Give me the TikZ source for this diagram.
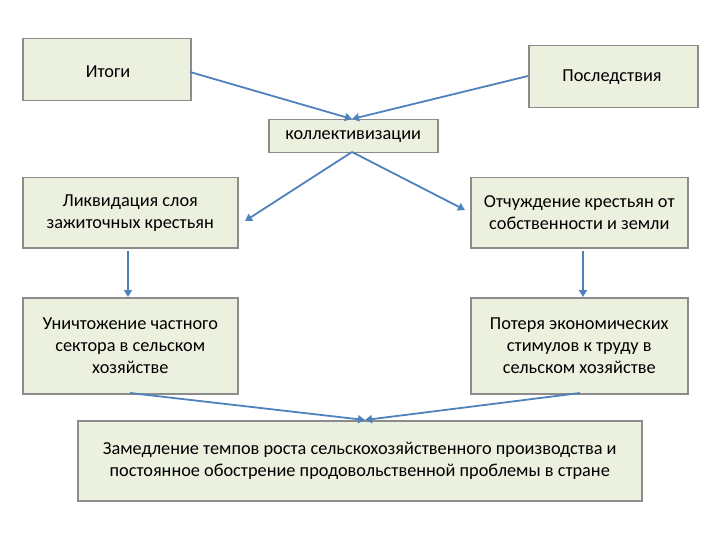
\documentclass[tikz,border=0pt]{standalone}
\usepackage{fontspec}
\setmainfont{Carlito}
\usetikzlibrary{arrows.meta}
\definecolor{boxfill}{HTML}{EBF1DE}
\definecolor{boxline}{HTML}{8C8C8C}
\definecolor{arr}{HTML}{4F81BD}
\begin{document}
\begin{tikzpicture}[x=1pt,y=-1pt,
  bx/.style={draw=boxline,fill=boxfill,line width=1.5pt,align=center,font=\fontsize{18.3}{22}\selectfont,inner sep=0pt},
  con/.style={draw=arr,line width=1.8pt,-{Triangle[length=7pt,width=8pt]}}]
\useasboundingbox (0,0) rectangle (720,540);
\node[bx,minimum width=168,minimum height=62,anchor=north west] (itogi) at (22,38) {};
\node[font=\fontsize{18.3}{22}\selectfont] (itogiT) at (108,72) {Итоги};
\node[bx,minimum width=169,minimum height=62,anchor=north west] (posl) at (528,45) {};
\node[font=\fontsize{18.3}{22}\selectfont] (poslT) at (612,77) {Последствия};
\node[bx,minimum width=169,minimum height=33,anchor=north west] (koll) at (268,119) {коллективизации};
\node[bx,minimum width=215,minimum height=70,anchor=north west] (likv) at (22,177) {Ликвидация слоя\\зажиточных крестьян};
\node[bx,minimum width=217,minimum height=70,anchor=north west] (otch) at (470,177) {Отчуждение крестьян от\\собственности и земли};
\node[bx,minimum width=215,minimum height=96,anchor=north west] (unich) at (22,297) {Уничтожение частного\\сектора в сельском\\хозяйстве};
\node[bx,minimum width=217,minimum height=96,anchor=north west] (pot) at (470,297) {Потеря экономических\\стимулов к труду в\\сельском хозяйстве};
\node[bx,minimum width=564,minimum height=80,anchor=north west] (zam) at (77,420) {Замедление темпов роста сельскохозяйственного производства и\\постоянное обострение продовольственной проблемы в стране};
\coordinate (kt) at (352,119);
\coordinate (zt) at (365,420);
\draw[con] (190,72) -- (kt);
\draw[con] (528,76) -- (kt);
\draw[con] (352,152) -- (245,221);
\draw[con] (352,152) -- (465,210);
\draw[con] (128,251) -- (unich.north -| 128,0);
\draw[con] (583,251) -- (pot.north -| 583,0);
\draw[con] (130,393) -- (zt);
\draw[con] (580,393) -- (zt);
\end{tikzpicture}
\end{document}
